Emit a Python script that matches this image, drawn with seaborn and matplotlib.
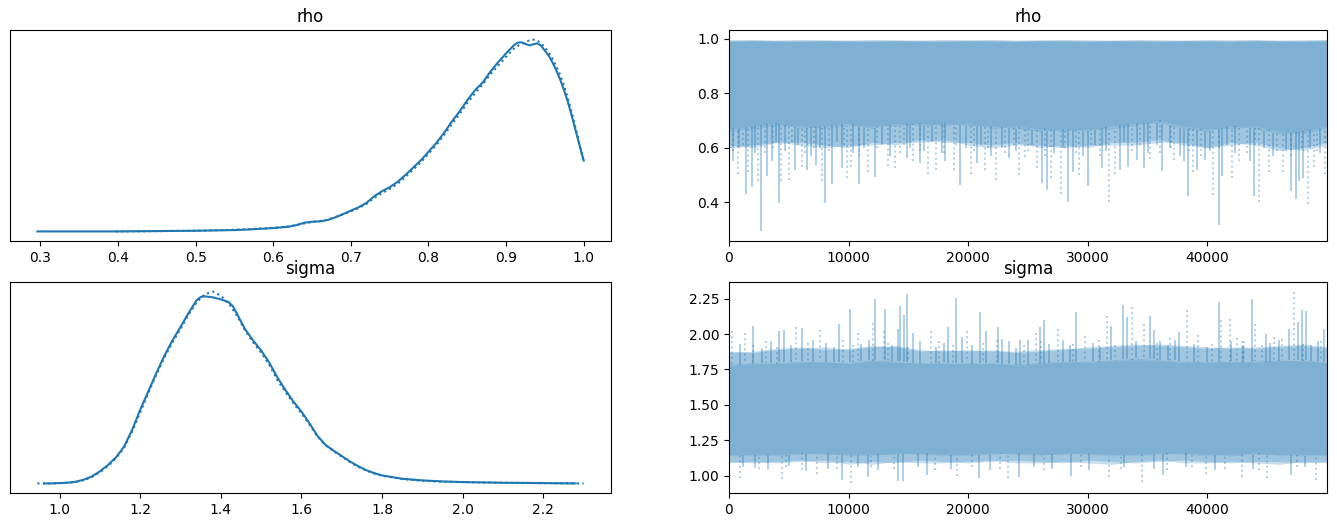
import numpy as np
import matplotlib
matplotlib.use("Agg")
import matplotlib.pyplot as plt
import seaborn as sns

# ---- KDE curves (chain 0 solid, chain 1 dotted) ----
rho_x_c0 = [0.296, 0.35, 0.40, 0.45, 0.50, 0.55, 0.57, 0.60, 0.62, 0.63, 0.64, 0.65, 0.66, 0.67,
            0.68, 0.69, 0.70, 0.71, 0.72, 0.73, 0.74, 0.75, 0.76, 0.77, 0.78, 0.79, 0.80, 0.81,
            0.82, 0.83, 0.84, 0.85, 0.86, 0.87, 0.88, 0.89, 0.90, 0.91, 0.915, 0.92, 0.925, 0.93,
            0.935, 0.94, 0.945, 0.95, 0.955, 0.96, 0.965, 0.97, 0.975, 0.98, 0.985, 0.99, 0.995, 1.00]
rho_d_c0 = [0.00, 0.00, 0.00, 0.01, 0.02, 0.04, 0.06, 0.10, 0.14, 0.19, 0.26, 0.29, 0.30, 0.34,
            0.42, 0.52, 0.62, 0.72, 0.85, 1.05, 1.20, 1.32, 1.48, 1.68, 1.90, 2.12, 2.38, 2.64,
            2.94, 3.28, 3.58, 3.92, 4.22, 4.45, 4.78, 5.06, 5.32, 5.56, 5.64, 5.65, 5.60, 5.56,
            5.59, 5.62, 5.55, 5.40, 5.25, 5.04, 4.80, 4.52, 4.20, 3.84, 3.42, 2.98, 2.55, 2.12]
rho_x_c1 = [0.397, 0.45, 0.50, 0.55, 0.57, 0.60, 0.62, 0.63, 0.64, 0.65, 0.66, 0.67,
            0.68, 0.69, 0.70, 0.71, 0.72, 0.73, 0.74, 0.75, 0.76, 0.77, 0.78, 0.79, 0.80, 0.81,
            0.82, 0.83, 0.84, 0.85, 0.86, 0.87, 0.88, 0.89, 0.90, 0.91, 0.915, 0.92, 0.925, 0.93,
            0.935, 0.94, 0.945, 0.95, 0.955, 0.96, 0.965, 0.97, 0.975, 0.98, 0.985, 0.99, 0.995, 1.00]
rho_d_c1 = [0.00, 0.01, 0.02, 0.05, 0.07, 0.11, 0.15, 0.19, 0.24, 0.28, 0.31, 0.35,
            0.43, 0.51, 0.60, 0.70, 0.82, 1.00, 1.14, 1.27, 1.42, 1.62, 1.84, 2.06, 2.32, 2.58,
            2.88, 3.20, 3.50, 3.84, 4.12, 4.40, 4.70, 4.96, 5.22, 5.46, 5.54, 5.60, 5.66, 5.71,
            5.73, 5.71, 5.62, 5.50, 5.34, 5.15, 4.92, 4.66, 4.33, 3.95, 3.52, 3.06, 2.56, 2.07]

sigma_x_c0 = [0.962, 0.98, 1.00, 1.02, 1.04, 1.06, 1.08, 1.10, 1.12, 1.14, 1.16, 1.18, 1.20, 1.22,
              1.24, 1.26, 1.28, 1.30, 1.32, 1.34, 1.35, 1.36, 1.38, 1.40, 1.42, 1.43, 1.44, 1.46,
              1.48, 1.50, 1.52, 1.54, 1.56, 1.58, 1.60, 1.62, 1.64, 1.66, 1.68, 1.70, 1.72, 1.74,
              1.76, 1.78, 1.80, 1.85, 1.90, 1.95, 2.00, 2.10, 2.20, 2.28]
sigma_d_c0 = [0.00, 0.00, 0.01, 0.02, 0.05, 0.11, 0.21, 0.36, 0.55, 0.78, 1.10, 1.60, 2.20, 2.75,
              3.30, 3.82, 4.28, 4.68, 5.10, 5.48, 5.58, 5.60, 5.57, 5.51, 5.42, 5.30, 5.08, 4.62,
              4.28, 3.98, 3.62, 3.18, 2.80, 2.45, 2.15, 1.80, 1.42, 1.15, 0.98, 0.82, 0.66, 0.52,
              0.40, 0.31, 0.24, 0.14, 0.09, 0.06, 0.04, 0.02, 0.01, 0.00]
sigma_x_c1 = [0.945, 0.98, 1.00, 1.02, 1.04, 1.06, 1.08, 1.10, 1.12, 1.14, 1.16, 1.18, 1.20, 1.22,
              1.24, 1.26, 1.28, 1.30, 1.32, 1.34, 1.36, 1.38, 1.40, 1.42, 1.44, 1.46,
              1.48, 1.50, 1.52, 1.54, 1.56, 1.58, 1.60, 1.62, 1.64, 1.66, 1.68, 1.70, 1.72, 1.74,
              1.76, 1.78, 1.80, 1.85, 1.90, 1.95, 2.00, 2.10, 2.20, 2.30]
sigma_d_c1 = [0.00, 0.00, 0.01, 0.02, 0.04, 0.10, 0.19, 0.33, 0.52, 0.75, 1.06, 1.55, 2.12, 2.70,
              3.25, 3.76, 4.22, 4.62, 5.05, 5.42, 5.66, 5.74, 5.62, 5.38, 5.02, 4.58,
              4.22, 3.92, 3.55, 3.10, 2.74, 2.40, 2.10, 1.76, 1.40, 1.14, 0.96, 0.80, 0.64, 0.50,
              0.39, 0.30, 0.23, 0.13, 0.08, 0.05, 0.04, 0.02, 0.01, 0.00]

# ---- trace panels: envelope of each chain every 2000 draws ----
bin_draws = [0, 2000, 4000, 6000, 8000, 10000, 12000, 14000, 16000, 18000, 20000, 22000, 24000,
             26000, 28000, 30000, 32000, 34000, 36000, 38000, 40000, 42000, 44000, 46000, 48000, 49999]

rho_core_lo_c0 = [0.67, 0.68, 0.69, 0.67, 0.68, 0.69, 0.67, 0.69, 0.68, 0.69, 0.68, 0.68, 0.67,
                  0.66, 0.67, 0.66, 0.68, 0.69, 0.69, 0.67, 0.66, 0.68, 0.67, 0.65, 0.66, 0.68]
rho_fringe_lo_c0 = [0.61, 0.60, 0.62, 0.62, 0.61, 0.60, 0.62, 0.61, 0.63, 0.62, 0.62, 0.61, 0.62,
                    0.60, 0.61, 0.60, 0.62, 0.62, 0.63, 0.61, 0.60, 0.62, 0.61, 0.59, 0.60, 0.62]
rho_hi_c0 = [0.995, 0.996, 0.994, 0.996, 0.995, 0.994, 0.996, 0.995, 0.994, 0.996, 0.995, 0.996, 0.994,
             0.995, 0.996, 0.995, 0.994, 0.996, 0.995, 0.994, 0.996, 0.995, 0.996, 0.994, 0.995, 0.996]
rho_core_lo_c1 = [0.66, 0.67, 0.68, 0.68, 0.67, 0.68, 0.68, 0.68, 0.69, 0.68, 0.69, 0.67, 0.68,
                  0.67, 0.66, 0.67, 0.67, 0.68, 0.70, 0.68, 0.67, 0.67, 0.68, 0.66, 0.65, 0.67]
rho_fringe_lo_c1 = [0.60, 0.61, 0.62, 0.61, 0.60, 0.61, 0.61, 0.62, 0.62, 0.63, 0.61, 0.60, 0.61,
                    0.61, 0.60, 0.61, 0.61, 0.61, 0.62, 0.62, 0.60, 0.61, 0.62, 0.60, 0.59, 0.61]
rho_hi_c1 = [0.990, 0.992, 0.991, 0.990, 0.992, 0.991, 0.990, 0.992, 0.991, 0.990, 0.992, 0.991, 0.990,
             0.992, 0.991, 0.990, 0.992, 0.991, 0.990, 0.992, 0.991, 0.990, 0.992, 0.991, 0.990, 0.992]

sigma_core_lo_c0 = [1.14, 1.15, 1.14, 1.15, 1.16, 1.14, 1.15, 1.15, 1.16, 1.15, 1.14, 1.15, 1.16,
                    1.15, 1.15, 1.16, 1.15, 1.14, 1.15, 1.16, 1.15, 1.14, 1.15, 1.15, 1.14, 1.15]
sigma_fringe_lo_c0 = [1.09, 1.10, 1.09, 1.10, 1.11, 1.08, 1.10, 1.09, 1.11, 1.10, 1.09, 1.10, 1.11,
                      1.10, 1.09, 1.11, 1.10, 1.09, 1.10, 1.11, 1.10, 1.09, 1.10, 1.10, 1.09, 1.10]
sigma_core_hi_c0 = [1.78, 1.79, 1.80, 1.81, 1.80, 1.80, 1.82, 1.81, 1.79, 1.80, 1.79, 1.80, 1.78,
                    1.79, 1.80, 1.81, 1.82, 1.83, 1.82, 1.81, 1.80, 1.81, 1.80, 1.81, 1.82, 1.80]
sigma_fringe_hi_c0 = [1.87, 1.88, 1.90, 1.91, 1.89, 1.90, 1.92, 1.91, 1.88, 1.89, 1.88, 1.89, 1.87,
                      1.88, 1.89, 1.91, 1.92, 1.93, 1.92, 1.91, 1.90, 1.91, 1.90, 1.91, 1.92, 1.90]
sigma_core_lo_c1 = [1.15, 1.14, 1.15, 1.16, 1.15, 1.15, 1.14, 1.16, 1.15, 1.14, 1.15, 1.16, 1.15,
                    1.14, 1.16, 1.15, 1.14, 1.15, 1.16, 1.15, 1.14, 1.15, 1.16, 1.14, 1.15, 1.14]
sigma_fringe_lo_c1 = [1.10, 1.09, 1.10, 1.11, 1.09, 1.10, 1.08, 1.10, 1.09, 1.09, 1.10, 1.11, 1.09,
                      1.09, 1.10, 1.09, 1.08, 1.10, 1.11, 1.09, 1.09, 1.10, 1.09, 1.08, 1.10, 1.09]
sigma_core_hi_c1 = [1.79, 1.80, 1.79, 1.80, 1.81, 1.79, 1.81, 1.80, 1.80, 1.79, 1.80, 1.79, 1.79,
                    1.80, 1.81, 1.80, 1.81, 1.82, 1.81, 1.80, 1.81, 1.80, 1.81, 1.82, 1.81, 1.80]
sigma_fringe_hi_c1 = [1.88, 1.87, 1.89, 1.90, 1.91, 1.89, 1.91, 1.92, 1.89, 1.88, 1.89, 1.88, 1.88,
                      1.89, 1.90, 1.90, 1.91, 1.92, 1.93, 1.92, 1.91, 1.90, 1.91, 1.92, 1.93, 1.91]

# ---- long excursions of each chain (draw, value) ----
rho_spike_draw_c0 = [360, 1400, 1950, 2650, 3180, 3600, 4180, 5520, 6520, 7250, 8030, 8640, 9420,
                     10870, 12210, 14850, 15970, 18060, 19290, 20710, 23410, 26140, 26590, 28370,
                     28790, 30040, 31160, 32690, 33390, 34080, 34670, 36230, 38020, 38350, 39100,
                     39800, 40950, 41190, 43560, 43900, 46990, 47380, 47680, 48020]
rho_spike_val_c0 = [0.55, 0.432, 0.457, 0.294, 0.496, 0.55, 0.397, 0.52, 0.52, 0.537, 0.399, 0.467,
                    0.525, 0.469, 0.494, 0.562, 0.546, 0.55, 0.463, 0.543, 0.562, 0.471, 0.444,
                    0.401, 0.512, 0.459, 0.525, 0.52, 0.528, 0.556, 0.525, 0.516, 0.553, 0.422,
                    0.52, 0.556, 0.319, 0.496, 0.55, 0.422, 0.442, 0.414, 0.48, 0.488]
rho_spike_draw_c1 = [730, 1620, 2450, 4350, 5020, 6080, 7800, 9840, 10200, 11650, 13320, 13880,
                     15410, 16610, 17310, 18810, 20230, 21400, 22300, 24270, 24750, 25750, 26920,
                     27760, 29260, 31770, 32270, 35200, 37210, 38770, 40440, 42080, 42640, 44340,
                     45180, 46320, 48380, 48910, 49830]
rho_spike_val_c1 = [0.506, 0.51, 0.48, 0.48, 0.484, 0.53, 0.479, 0.488, 0.53, 0.512, 0.533, 0.525,
                    0.55, 0.506, 0.52, 0.52, 0.506, 0.52, 0.484, 0.50, 0.568, 0.525, 0.491, 0.43,
                    0.50, 0.401, 0.506, 0.558, 0.556, 0.512, 0.426, 0.488, 0.55, 0.401, 0.512,
                    0.512, 0.395, 0.53, 0.506]
# shorter dips that make up the ragged lower fringe
rho_dip_draw_c0 = [800, 2200, 3900, 4700, 5800, 6900, 7600, 9000, 10400, 11300, 12800, 13500, 15100,
                   16300, 17000, 17800, 19800, 21100, 21900, 22800, 24000, 25300, 27200, 27900,
                   29600, 30600, 31500, 33000, 35000, 35800, 36900, 37700, 40200, 41600, 42300,
                   44700, 45500, 46600, 48600, 49400]
rho_dip_val_c0 = [0.60, 0.58, 0.62, 0.59, 0.61, 0.57, 0.60, 0.62, 0.58, 0.60, 0.61, 0.57, 0.60,
                  0.59, 0.62, 0.58, 0.60, 0.61, 0.57, 0.60, 0.59, 0.61, 0.58, 0.60, 0.57, 0.61,
                  0.59, 0.62, 0.58, 0.61, 0.60, 0.57, 0.59, 0.61, 0.58, 0.60, 0.57, 0.59, 0.60, 0.58]
rho_dip_draw_c1 = [300, 1200, 3000, 3700, 5300, 6400, 7100, 8400, 9600, 10900, 12400, 14300, 14600,
                   16000, 18000, 19000, 20500, 21700, 23100, 23800, 25000, 26400, 28100, 29000,
                   30300, 31000, 33700, 34400, 36000, 37000, 38500, 39500, 41000, 43300, 44000,
                   45800, 47000, 47900, 49200]
rho_dip_val_c1 = [0.59, 0.61, 0.58, 0.60, 0.62, 0.58, 0.60, 0.59, 0.61, 0.57, 0.60, 0.58, 0.61,
                  0.59, 0.58, 0.61, 0.59, 0.60, 0.58, 0.61, 0.59, 0.57, 0.60, 0.58, 0.61, 0.57,
                  0.59, 0.61, 0.58, 0.60, 0.59, 0.57, 0.60, 0.58, 0.61, 0.59, 0.57, 0.60, 0.59]

sigma_spike_draw_c0 = [1980, 4180, 4600, 6080, 7020, 9200, 10120, 12210, 13040, 14100, 14300, 14630,
                       14880, 15360, 18310, 18980, 19480, 20990, 21490, 22470, 22800, 24360, 25030,
                       26000, 26340, 29010, 31940, 32920, 33250, 35230, 35560, 36040, 37630, 40970,
                       43760, 44880, 46800, 47600, 47880, 48210, 49270, 49720,
                       2190, 6430, 9420, 11640, 14150, 14560, 16560, 20900, 24280, 28620, 36330, 46950]
sigma_spike_val_c0 = [2.056, 2.02, 2.03, 2.04, 1.955, 2.07, 2.178, 2.248, 2.178, 2.037, 2.20, 2.135,
                      2.28, 2.01, 2.05, 2.255, 1.977, 2.157, 2.025, 2.05, 1.967, 1.96, 1.96,
                      2.05, 2.097, 2.157, 2.056, 2.205, 2.123, 2.128, 2.03, 1.948, 2.015, 2.23,
                      2.248, 2.0, 2.037, 2.083, 2.17, 2.163, 1.948, 2.037,
                      1.053, 1.03, 0.97, 0.993, 0.962, 0.965, 1.005, 0.986, 0.993, 1.0, 1.005, 1.005]
sigma_spike_draw_c1 = [280, 1340, 5600, 7610, 10760, 12040, 12940, 16860, 19900, 25670, 27530,
                       29770, 31580, 33670, 34670, 38270, 39240, 41140, 41860, 42480, 43090, 44010,
                       46270, 47210,
                       900, 4440, 7330, 10220, 19070, 23310, 31740, 34570, 39870, 42930, 45020, 49040]
sigma_spike_val_c1 = [2.02, 2.01, 2.05, 2.03, 2.01, 2.077, 2.02, 2.025, 2.02, 2.01, 2.037,
                      1.99, 2.128, 2.19, 2.068, 2.17, 1.997, 2.097, 2.11, 1.97, 1.948, 2.068,
                      1.967, 2.30,
                      0.98, 0.976, 1.01, 0.945, 0.998, 0.98, 0.993, 0.952, 1.01, 0.993, 0.98, 0.97]
sigma_dip_draw_c0 = [900, 2800, 3500, 5200, 8100, 8800, 11000, 11700, 13600, 16000, 17300, 18000,
                     20300, 23400, 24000, 26800, 27900, 28500, 30400, 31000, 34000, 36700, 37300,
                     38900, 40000, 42000, 43000, 45200, 46000, 48700,
                     1200, 3300, 5000, 8300, 10800, 12500, 15800, 18600, 21800, 25500, 27000, 30100,
                     33000, 35500, 38200, 40600, 43800, 48200]
sigma_dip_val_c0 = [1.93, 1.90, 1.95, 1.92, 1.94, 1.91, 1.93, 1.96, 1.92, 1.95, 1.91, 1.94,
                    1.92, 1.95, 1.90, 1.93, 1.96, 1.92, 1.94, 1.91, 1.95, 1.92, 1.96,
                    1.93, 1.91, 1.95, 1.92, 1.94, 1.96, 1.92,
                    1.06, 1.05, 1.07, 1.05, 1.06, 1.04, 1.06, 1.05, 1.04, 1.06, 1.05, 1.04,
                    1.06, 1.05, 1.06, 1.04, 1.05, 1.06]
sigma_dip_draw_c1 = [2000, 3100, 4000, 6600, 9500, 10400, 13300, 15000, 17600, 18700, 21200, 22400,
                     24700, 26100, 28800, 30900, 32300, 35800, 36900, 40400, 42900, 44600, 45600,
                     48000, 49500,
                     2500, 4800, 6100, 9000, 11900, 13800, 17200, 20300, 22700, 26300, 29400, 32800,
                     36600, 38700, 41500, 44300, 47500]
sigma_dip_val_c1 = [1.92, 1.95, 1.91, 1.94, 1.96, 1.92, 1.94, 1.91, 1.95, 1.92, 1.94, 1.96,
                    1.92, 1.95, 1.93, 1.96, 1.92, 1.94, 1.97, 1.93, 1.95, 1.92, 1.98,
                    1.93, 1.95,
                    1.05, 1.06, 1.04, 1.05, 1.06, 1.05, 1.04, 1.06, 1.05, 1.04, 1.06, 1.05,
                    1.04, 1.06, 1.05, 1.04, 1.06]

color = "#1f77b4"
n_draws_last = 49999


def draw_kde(ax, title, curves):
    for xs, ds, ls in curves:
        sns.lineplot(x=xs, y=ds, ax=ax, color=color, linewidth=1.5, linestyle=ls)
    ax.set_yticks([])
    ax.set_ylabel("")
    ax.set_title(title)


def draw_trace(ax, title, chains):
    for ch in chains:
        ax.fill_between(bin_draws, ch["fringe_lo"], ch["core_lo"], color=color, alpha=0.24, lw=0)
        ax.fill_between(bin_draws, ch["core_lo"], ch["core_hi"], color=color, alpha=0.35, lw=0)
        if ch.get("fringe_hi") is not None:
            ax.fill_between(bin_draws, ch["core_hi"], ch["fringe_hi"], color=color, alpha=0.24, lw=0)
        draws = list(ch["spike_draw"]) + list(ch["dip_draw"])
        vals = np.asarray(list(ch["spike_val"]) + list(ch["dip_val"]))
        lo_edge = np.interp(draws, bin_draws, ch["core_lo"])
        hi_edge = np.interp(draws, bin_draws, ch["core_hi"])
        mid = (np.mean(ch["core_lo"]) + np.mean(ch["core_hi"])) / 2
        base = np.where(vals < mid, lo_edge, hi_edge)
        ax.vlines(draws, vals, base, color=color, alpha=0.35,
                  linewidth=1.4, linestyles=ch["ls"])
    ax.set_xlim(0, n_draws_last)
    ax.set_title(title)


fig = plt.figure(figsize=(13.37, 5.26), dpi=100)
ax_rk = fig.add_axes([0.0075, 0.5418, 0.4495, 0.4011])
ax_rt = fig.add_axes([0.5452, 0.5418, 0.4473, 0.4011])
ax_sk = fig.add_axes([0.0075, 0.0627, 0.4495, 0.4011])
ax_st = fig.add_axes([0.5452, 0.0627, 0.4473, 0.4011])

draw_kde(ax_rk, "rho", [(rho_x_c0, rho_d_c0, "-"), (rho_x_c1, rho_d_c1, ":")])
draw_kde(ax_sk, "sigma", [(sigma_x_c0, sigma_d_c0, "-"), (sigma_x_c1, sigma_d_c1, ":")])

draw_trace(ax_rt, "rho", [
    dict(fringe_lo=rho_fringe_lo_c0, core_lo=rho_core_lo_c0, core_hi=rho_hi_c0, fringe_hi=None,
         spike_draw=rho_spike_draw_c0, spike_val=rho_spike_val_c0,
         dip_draw=rho_dip_draw_c0, dip_val=rho_dip_val_c0, ls="solid"),
    dict(fringe_lo=rho_fringe_lo_c1, core_lo=rho_core_lo_c1, core_hi=rho_hi_c1, fringe_hi=None,
         spike_draw=rho_spike_draw_c1, spike_val=rho_spike_val_c1,
         dip_draw=rho_dip_draw_c1, dip_val=rho_dip_val_c1, ls="dotted"),
])
draw_trace(ax_st, "sigma", [
    dict(fringe_lo=sigma_fringe_lo_c0, core_lo=sigma_core_lo_c0, core_hi=sigma_core_hi_c0,
         fringe_hi=sigma_fringe_hi_c0, spike_draw=sigma_spike_draw_c0, spike_val=sigma_spike_val_c0,
         dip_draw=sigma_dip_draw_c0, dip_val=sigma_dip_val_c0, ls="solid"),
    dict(fringe_lo=sigma_fringe_lo_c1, core_lo=sigma_core_lo_c1, core_hi=sigma_core_hi_c1,
         fringe_hi=sigma_fringe_hi_c1, spike_draw=sigma_spike_draw_c1, spike_val=sigma_spike_val_c1,
         dip_draw=sigma_dip_draw_c1, dip_val=sigma_dip_val_c1, ls="dotted"),
])
ax_rt.set_yticks([0.4, 0.6, 0.8, 1.0])

fig.savefig("out.png", dpi=100)
